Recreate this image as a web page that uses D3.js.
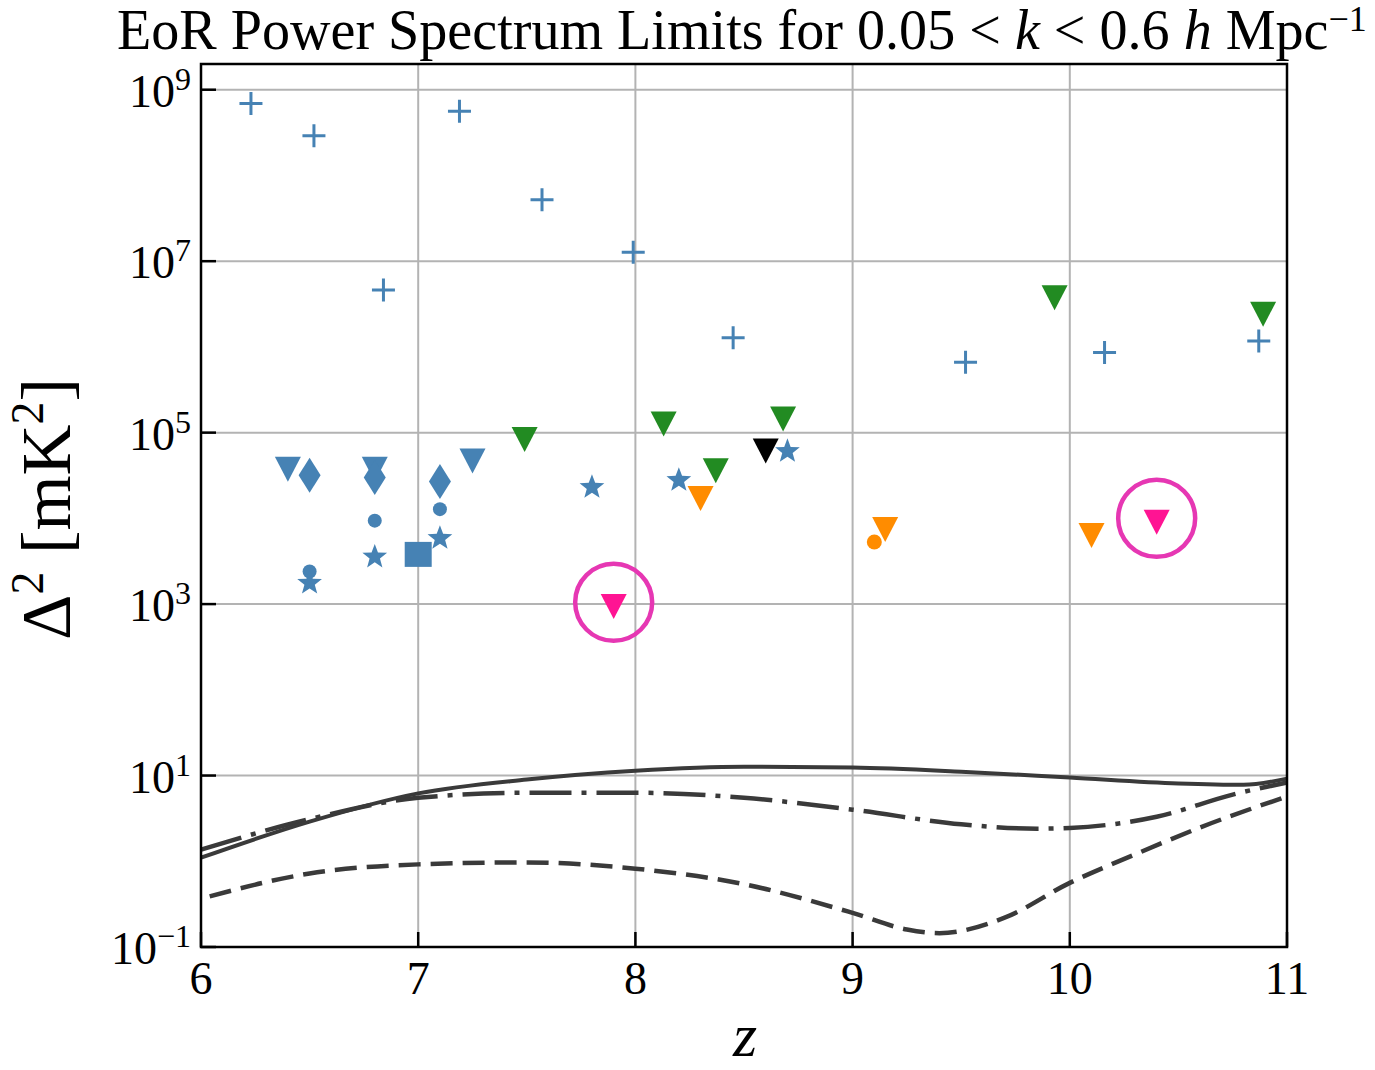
<!DOCTYPE html>
<html>
<head>
<meta charset="utf-8">
<script src="https://cdn.jsdelivr.net/npm/d3@7"></script>
<style>
  body { margin: 0; background: #fff; }
  text { font-family: "Liberation Serif", "DejaVu Serif", serif; fill: #000; }
</style>
</head>
<body>
<div id="chart"></div>
<script>
// ---- data (z, Delta^2 in mK^2) ----
const plusZ = [6.23, 6.52, 6.84, 7.19, 7.57, 7.99, 8.45, 9.52, 10.16, 10.87];
const plusP = [6.9e8, 2.9e8, 4.6e6, 5.6e8, 5.2e7, 1.27e7, 1.28e6, 6.6e5, 8.6e5, 1.17e6];

const greenTriZ = [7.49, 8.13, 8.37, 8.68, 9.93, 10.89];
const greenTriP = [8.3e4, 1.26e5, 3.6e4, 1.44e5, 3.75e6, 2.41e6];

const blackTriZ = [8.6];
const blackTriP = [6.1e4];

const blueTriZ = [6.4, 6.8, 7.25];
const blueTriP = [3.75e4, 3.75e4, 4.66e4];

const blueDiamondZ = [6.5, 6.8, 7.1];
const blueDiamondP = [3.19e4, 3.0e4, 2.7e4];

const blueCircleZ = [6.5, 6.8, 7.1];
const blueCircleP = [2.4e3, 9.4e3, 1.28e4];

const blueStarZ = [6.5, 6.8, 7.1, 7.8, 8.2, 8.7];
const blueStarP = [1.83e3, 3.7e3, 6.1e3, 2.4e4, 2.9e4, 6.3e4];

const blueSquareZ = [7.0];
const blueSquareP = [3.8e3];

const orangeTriZ = [8.3, 9.15, 10.1];
const orangeTriP = [1.7e4, 7.4e3, 6.3e3];

const orangeCircleZ = [9.1];
const orangeCircleP = [5.3e3];

const pinkTriZ = [7.9, 10.4];
const pinkTriP = [940, 9.0e3];

// highlight rings drawn around the pink points
const ringZ = [7.9, 10.4];
const ringP = [1.05e3, 1.0e4];

// model curves
const solidZ = [6.0, 6.5, 7.0, 7.5, 8.0, 8.5, 9.0, 9.5, 10.0, 10.5, 10.8, 11.0];
const solidP = [1.1, 2.9, 6.2, 9.0, 11.4, 12.7, 12.4, 11.1, 9.5, 8.1, 7.8, 9.2];

const dashDotZ = [6.0, 6.5, 7.0, 7.5, 8.0, 8.5, 9.0, 9.5, 9.85, 10.0, 10.4, 10.75, 11.0];
const dashDotP = [1.37, 3.1, 5.5, 6.3, 6.3, 5.5, 4.0, 2.7, 2.4, 2.45, 3.3, 6.0, 8.3];

const dashedZ = [6.04, 6.5, 7.0, 7.5, 8.0, 8.5, 9.0, 9.25, 9.4, 9.7, 10.0, 10.3, 10.6, 11.0];
const dashedP = [0.39, 0.72, 0.92, 0.97, 0.82, 0.54, 0.25, 0.16, 0.145, 0.22, 0.56, 1.2, 2.48, 5.7];

// axis ticks
const xTicks = [6, 7, 8, 9, 10, 11];
const yTickExp = [9, 7, 5, 3, 1, -1];

// --------------------------------------
const W = 1375, H = 1070;
const plot = { left: 201, right: 1287, top: 64, bottom: 947 };

const svg = d3.select("#chart").append("svg")
    .attr("width", W).attr("height", H)
    .attr("viewBox", `0 0 ${W} ${H}`);

const x = d3.scaleLinear().domain([6, 11]).range([plot.left, plot.right]);
const y = d3.scaleLog().domain([1e-1, Math.pow(10, 9.3)]).range([plot.bottom, plot.top]);

const zip = (a, b) => a.map((v, i) => [v, b[i]]);

// grid
const grid = svg.append("g").attr("stroke", "#b3b3b3").attr("stroke-width", 2);
grid.selectAll("line.gx").data(xTicks.slice(1, -1)).join("line")
    .attr("x1", d => x(d)).attr("x2", d => x(d))
    .attr("y1", plot.top).attr("y2", plot.bottom);
grid.selectAll("line.gy").data(yTickExp.slice(0, -1)).join("line")
    .attr("x1", plot.left).attr("x2", plot.right)
    .attr("y1", d => y(Math.pow(10, d))).attr("y2", d => y(Math.pow(10, d)));

// model lines
const line = d3.line().x(d => x(d[0])).y(d => y(d[1])).curve(d3.curveMonotoneX);
const lines = svg.append("g").attr("fill", "none").attr("stroke", "#3a3a3a")
    .attr("stroke-width", 4.5);
lines.append("path").attr("d", line(zip(dashedZ, dashedP))).attr("stroke-dasharray", "22,10");
lines.append("path").attr("d", line(zip(dashDotZ, dashDotP))).attr("stroke-dasharray", "42,10,5,10");
lines.append("path").attr("d", line(zip(solidZ, solidP))).attr("stroke-width", 4);

// marker shapes (pixel sizes)
const shapes = {
    tri: "M-13,-12.5L13,-12.5L0,12.5Z",
    diamond: "M0,-17.5L11,0L0,17.5L-11,0Z",
    square: "M-13.5,-12.5H13.5V12.5H-13.5Z",
    star: (() => {
        const R = 13, r = R * 0.42, pts = [];
        for (let i = 0; i < 10; i++) {
            const a = -Math.PI / 2 + i * Math.PI / 5, rr = i % 2 ? r : R;
            pts.push([rr * Math.cos(a), rr * Math.sin(a) + 1.5]);
        }
        return "M" + pts.map(p => p.join(",")).join("L") + "Z";
    })()
};

function drawPath(zs, ps, shape, color) {
    svg.append("g").selectAll("path").data(zip(zs, ps)).join("path")
        .attr("d", shape)
        .attr("transform", d => `translate(${x(d[0])},${y(d[1])})`)
        .attr("fill", color);
}
function drawDots(zs, ps, r, color) {
    svg.append("g").selectAll("circle").data(zip(zs, ps)).join("circle")
        .attr("cx", d => x(d[0])).attr("cy", d => y(d[1])).attr("r", r)
        .attr("fill", color);
}

const blue = "#4682b4", green = "#228b22", orange = "#ff8c00", pink = "#ff1493";

// plus markers
svg.append("g").selectAll("path").data(zip(plusZ, plusP)).join("path")
    .attr("d", "M-11.5,0H11.5M0,-11.5V11.5")
    .attr("transform", d => `translate(${x(d[0])},${y(d[1])})`)
    .attr("stroke", blue).attr("stroke-width", 3).attr("fill", "none");

drawPath(blueTriZ, blueTriP, shapes.tri, blue);
drawPath(blueDiamondZ, blueDiamondP, shapes.diamond, blue);
drawDots(blueCircleZ, blueCircleP, 7, blue);
drawPath(blueStarZ, blueStarP, shapes.star, blue);
drawPath(blueSquareZ, blueSquareP, shapes.square, blue);
drawPath(greenTriZ, greenTriP, shapes.tri, green);
drawPath(blackTriZ, blackTriP, shapes.tri, "#000");
drawPath(orangeTriZ, orangeTriP, shapes.tri, orange);
drawDots(orangeCircleZ, orangeCircleP, 7.5, orange);
drawPath(pinkTriZ, pinkTriP, shapes.tri, pink);

// rings
svg.append("g").selectAll("circle").data(zip(ringZ, ringP)).join("circle")
    .attr("cx", d => x(d[0])).attr("cy", d => y(d[1])).attr("r", 38.5)
    .attr("fill", "none").attr("stroke", "#e637b3").attr("stroke-width", 4.5);

// frame and ticks
svg.append("rect")
    .attr("x", plot.left).attr("y", plot.top)
    .attr("width", plot.right - plot.left).attr("height", plot.bottom - plot.top)
    .attr("fill", "none").attr("stroke", "#000").attr("stroke-width", 2.5);

const ticks = svg.append("g").attr("stroke", "#000").attr("stroke-width", 2.5);
ticks.selectAll("line.tx").data(xTicks).join("line")
    .attr("x1", d => x(d)).attr("x2", d => x(d))
    .attr("y1", plot.bottom).attr("y2", plot.bottom - 15);
ticks.selectAll("line.ty").data(yTickExp).join("line")
    .attr("x1", plot.left).attr("x2", plot.left + 15)
    .attr("y1", d => y(Math.pow(10, d))).attr("y2", d => y(Math.pow(10, d)));

// tick labels
svg.append("g").selectAll("text").data(xTicks).join("text")
    .attr("x", d => x(d)).attr("y", 994)
    .attr("text-anchor", "middle").attr("font-size", 46)
    .text(d => d);

const yl = svg.append("g").selectAll("text").data(yTickExp).join("text")
    .attr("x", 191).attr("y", d => y(Math.pow(10, d)) + 17)
    .attr("text-anchor", "end").attr("font-size", 46);
yl.append("tspan").text("10");
yl.append("tspan").attr("dy", -17).attr("font-size", 32)
    .text(d => d < 0 ? "\u2212" + (-d) : d);

// title
const title = svg.append("text").attr("x", 117).attr("y", 49).attr("font-size", 50);
title.append("tspan").text("EoR Power Spectrum Limits for 0.05 < ");
title.append("tspan").attr("font-style", "italic").text("k");
title.append("tspan").text(" < 0.6 ");
title.append("tspan").attr("font-style", "italic").text("h");
title.append("tspan").text(" Mpc");
title.append("tspan").attr("dy", -16).attr("font-size", 32).text("\u22121");
// fit a label's width to a target length
function fitWidth(sel, target) {
    const w = sel.node().getBBox().width;
    const fs = +sel.attr("font-size");
    const k = target / w;
    sel.attr("font-size", fs * k);
    sel.selectAll("tspan").each(function () {
        const t = d3.select(this);
        if (t.attr("font-size")) t.attr("font-size", +t.attr("font-size") * k);
        if (t.attr("dy")) t.attr("dy", +t.attr("dy") * k);
    });
}
fitWidth(title, 1250);

// axis labels
const ylab = svg.append("text")
    .attr("transform", "translate(70,509) rotate(-90)")
    .attr("text-anchor", "middle").attr("font-size", 62);
ylab.append("tspan").text("\u0394");
ylab.append("tspan").attr("dy", -24).attr("font-size", 40).text("2");
ylab.append("tspan").attr("dy", 24).text(" [mK");
ylab.append("tspan").attr("dy", -24).attr("font-size", 40).text("2");
ylab.append("tspan").attr("dy", 24).text("]");
fitWidth(ylab, 262);

svg.append("text")
    .attr("x", 745).attr("y", 1056)
    .attr("text-anchor", "middle").attr("font-size", 62).attr("font-style", "italic")
    .text("z");
</script>
</body>
</html>
